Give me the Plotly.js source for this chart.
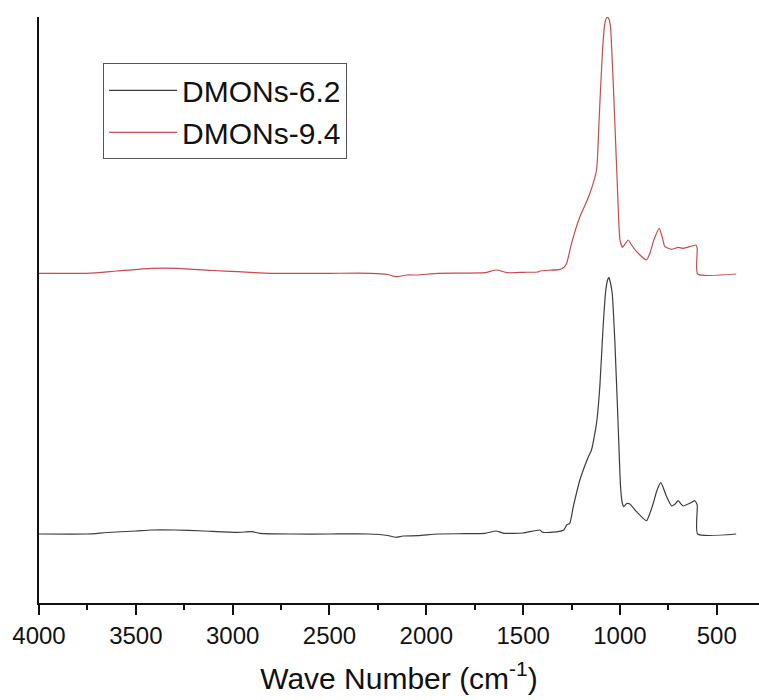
<!DOCTYPE html>
<html>
<head>
<meta charset="utf-8">
<script src="https://cdn.plot.ly/plotly-3.0.1.min.js"></script>
<style>html,body{margin:0;padding:0;background:#fff;}#chart{width:759px;height:700px;}</style>
</head>
<body>
<div id="chart"></div>
<script>
// Wavenumbers (cm^-1) and intensities (a.u., offset stacked)
const waveBlack = [4000,3750,3650,3500,3420,3300,3150,2975,2900,2860,2700,2500,2300,2200,2157,2120,2043,1940,1800,1697,1640,1600,1500,1413,1400,1320,1290,1275,1259,1241,1207,1180,1163,1147,1121,1104,1087,1073,1064,1057,1050,1040,1026,1009,997,988,980,965,949,914,863,845,828,810,789,772,759,733,715,699,685,673,639,613,601,599,400];
const intBlack = [69,69,70.5,72,73,73,72,70.7,71.3,69.7,69,69,69,67.5,65.7,67,67.3,69,69.3,69.7,72,69.7,70,73,70.7,71.3,73,78,79.7,96.3,123,138,146.3,153,179.7,216.3,276.3,313,323,325.7,321,309.7,260,176.3,116.3,100,96.3,99.5,99,91.3,82.3,90,99.7,112,120.3,113,106.3,97,99,102.3,99,97,99.7,102.3,98,69,69];

const waveRed = [4000,3750,3600,3420,3280,3100,2975,2886,2800,2500,2287,2200,2157,2100,2043,1940,1697,1640,1579,1500,1424,1413,1310,1290,1275,1250,1207,1180,1155,1121,1107,1090,1078,1070,1064,1057,1049,1031,1014,1000,987,970,957,940,914,863,845,825,797,782,768,733,699,673,630,608,601,599,400];
const intRed = [329.7,329.7,332,334.7,334.7,332.5,331.3,330.3,329.7,329.7,329.7,328.5,326.3,328,328,329.7,330.3,333,330.3,330.7,331,332,333.7,335.5,339.7,359.7,386.3,398,409.7,433,486.3,553,579.7,585,585.7,584,576.3,503,419.7,363,355.7,360,363,358,351.3,343,350,363,374.7,366,356.3,353.7,355.7,354.7,357,358,354.7,329,329];

const names = ["DMONs-6.2", "DMONs-9.4"];
const xTickVals = [4000,3500,3000,2500,2000,1500,1000,500];

const traces = [
  {x: waveBlack, y: intBlack, name: names[0], type: "scatter", mode: "lines",
   line: {color: "#3c3c3c", width: 1.2, shape: "spline", smoothing: 0.5}},
  {x: waveRed, y: intRed, name: names[1], type: "scatter", mode: "lines",
   line: {color: "#c94a4d", width: 1.2, shape: "spline", smoothing: 0.5}}
];

const layout = {
  width: 759, height: 700,
  margin: {l: 39, r: 0, t: 17, b: 97},
  paper_bgcolor: "#ffffff", plot_bgcolor: "#ffffff",
  font: {family: "Liberation Sans, Arial, sans-serif", color: "#111111"},
  showlegend: true,
  legend: {
    x: 0.089, y: 0.921, xanchor: "left", yanchor: "top",
    bgcolor: "#ffffff", bordercolor: "#555555", borderwidth: 1,
    font: {size: 30, color: "#111111"},
    itemwidth: 68, tracegroupgap: 0
  },
  xaxis: {
    range: [4000, 282],
    tickvals: xTickVals,
    ticks: "outside", ticklen: 10, tickwidth: 2, tickcolor: "#111111",
    minor: {dtick: 250, ticks: "outside", ticklen: 5, tickwidth: 2, tickcolor: "#111111"},
    showline: true, linecolor: "#111111", linewidth: 2,
    showgrid: false, zeroline: false,
    tickfont: {size: 24, color: "#111111"},
    title: {text: "Wave Number (cm<sup>-1</sup>)", font: {size: 30, color: "#111111"}, standoff: 20}
  },
  yaxis: {
    range: [0, 586],
    showticklabels: false, ticks: "",
    showline: true, linecolor: "#111111", linewidth: 2,
    showgrid: false, zeroline: false
  }
};

Plotly.newPlot("chart", traces, layout, {displayModeBar: false, staticPlot: true});
</script>
</body>
</html>
